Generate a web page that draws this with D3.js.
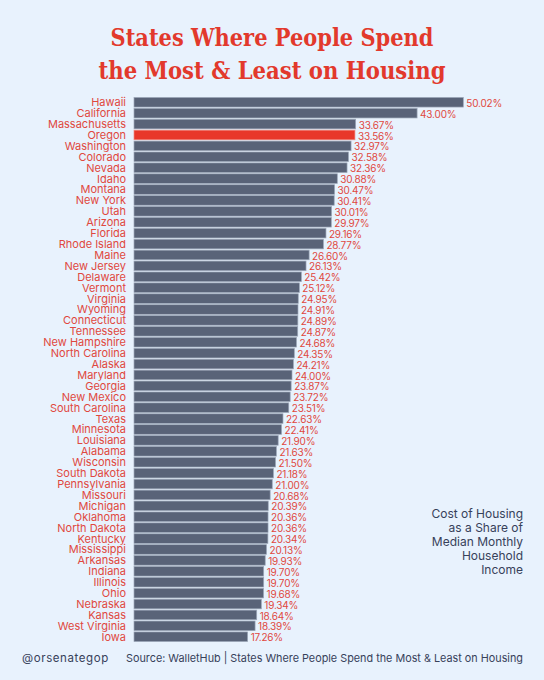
<!DOCTYPE html>
<html>
<head>
<meta charset="utf-8">
<script src="https://cdn.jsdelivr.net/npm/d3@7"></script>
<style>
html,body{margin:0;padding:0;background:#e8f2fd;}
svg{display:block;}
</style>
</head>
<body>
<svg id="chart" width="544" height="680"></svg>
<script>
const states = ["Hawaii","California","Massachusetts","Oregon","Washington","Colorado","Nevada","Idaho","Montana","New York","Utah","Arizona","Florida","Rhode Island","Maine","New Jersey","Delaware","Vermont","Virginia","Wyoming","Connecticut","Tennessee","New Hampshire","North Carolina","Alaska","Maryland","Georgia","New Mexico","South Carolina","Texas","Minnesota","Louisiana","Alabama","Wisconsin","South Dakota","Pennsylvania","Missouri","Michigan","Oklahoma","North Dakota","Kentucky","Mississippi","Arkansas","Indiana","Illinois","Ohio","Nebraska","Kansas","West Virginia","Iowa"];
const shares = [50.02,43.00,33.67,33.56,32.97,32.58,32.36,30.88,30.47,30.41,30.01,29.97,29.16,28.77,26.60,26.13,25.42,25.12,24.95,24.91,24.89,24.87,24.68,24.35,24.21,24.00,23.87,23.72,23.51,22.63,22.41,21.90,21.63,21.50,21.18,21.00,20.68,20.39,20.36,20.36,20.34,20.13,19.93,19.70,19.70,19.68,19.34,18.64,18.39,17.26];
const highlight = "Oregon";
const titleLines = ["States Where People Spend","the Most & Least on Housing"];
const legendLines = ["Cost of Housing","as a Share of","Median Monthly","Household","Income"];
const handle = "@orsenategop";
const source = "Source: WalletHub | States Where People Spend the Most & Least on Housing";

const data = states.map((s,i)=>({state:s, value:shares[i]}));
const svg = d3.select("#chart");
const RED = "#e2392c";
const LABEL = "#e0483e";
const NAVY = "#37415a";

svg.append("rect").attr("width",544).attr("height",680).attr("fill","#e8f2fd");

// title
const tW = [323, 347];
svg.append("g").selectAll("text").data(titleLines).join("text")
  .attr("x",272).attr("y",(d,i)=>46+i*33)
  .attr("text-anchor","middle")
  .attr("font-family","'DejaVu Serif', serif")
  .attr("font-weight","bold")
  .attr("font-size",25)
  .attr("fill",RED)
  .attr("textLength",(d,i)=>tW[i])
  .attr("lengthAdjust","spacingAndGlyphs")
  .text(d=>d);

const x = d3.scaleLinear().domain([0,50.02]).range([134,463.3]);
const y = d3.scaleBand().domain(states).range([96.8,642.2]).paddingInner(0.12).paddingOuter(0.06);

const g = svg.append("g");
g.selectAll("rect.bar").data(data).join("rect")
  .attr("class","bar")
  .attr("x",x(0))
  .attr("y",d=>y(d.state))
  .attr("width",d=>x(d.value)-x(0))
  .attr("height",y.bandwidth())
  .attr("fill",d=>d.state===highlight?"#e8372a":"#596378")
  .attr("stroke",d=>d.state===highlight?"#f08a80":"#9ca7b8")
  .attr("stroke-width",0.7);

// state labels
g.selectAll("text.state").data(data).join("text")
  .attr("class","state")
  .attr("x",126)
  .attr("y",d=>y(d.state)+y.bandwidth()/2)
  .attr("dy","0.36em")
  .attr("text-anchor","end")
  .attr("font-family","Inter, sans-serif")
  .attr("font-size",11)
  .attr("fill",LABEL)
  .text(d=>d.state);

// value labels
g.selectAll("text.val").data(data).join("text")
  .attr("class","val")
  .attr("x",d=>x(d.value)+3)
  .attr("y",d=>y(d.state)+y.bandwidth()/2+1)
  .attr("dy","0.36em")
  .attr("font-family","Inter, sans-serif")
  .attr("font-size",10)
  .attr("letter-spacing","-0.2")
  .attr("fill",LABEL)
  .text(d=>d3.format(".2f")(d.value)+"%");

// legend note
svg.append("g").selectAll("text").data(legendLines).join("text")
  .attr("x",523).attr("y",(d,i)=>518+i*14)
  .attr("text-anchor","end")
  .attr("font-family","Inter, sans-serif")
  .attr("font-size",12)
  .attr("fill",NAVY)
  .text(d=>d);

// footer
svg.append("text").attr("x",22).attr("y",662)
  .attr("font-family","Inter, sans-serif").attr("font-size",11.5)
  .attr("letter-spacing","0.6")
  .attr("fill",NAVY).text(handle);
svg.append("text").attr("x",126).attr("y",662)
  .attr("font-family","Inter, sans-serif").attr("font-size",11)
  .attr("fill",NAVY)
  .attr("textLength",397).attr("lengthAdjust","spacingAndGlyphs")
  .text(source);
</script>
</body>
</html>
